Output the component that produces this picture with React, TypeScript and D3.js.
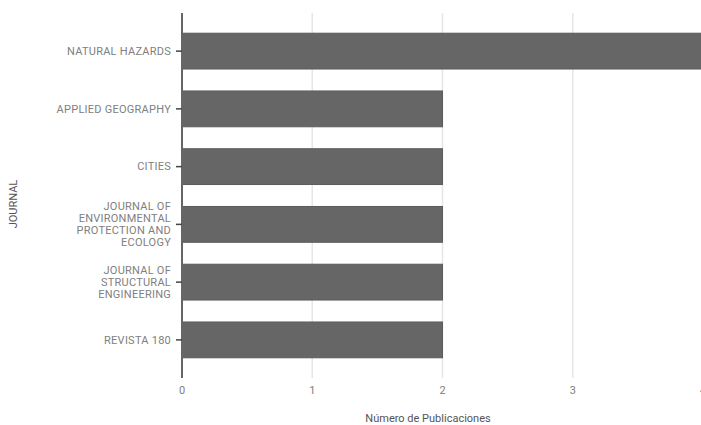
import React from "react";
import * as d3 from "d3";

const journals: string[][] = [
  ["NATURAL HAZARDS"],
  ["APPLIED GEOGRAPHY"],
  ["CITIES"],
  ["JOURNAL OF", "ENVIRONMENTAL", "PROTECTION AND", "ECOLOGY"],
  ["JOURNAL OF", "STRUCTURAL", "ENGINEERING"],
  ["REVISTA 180"],
];
const publications: number[] = [4, 2, 2, 2, 2, 2];
const xTicks: number[] = [0, 1, 2, 3, 4];

export default function App() {
  const W = 701, H = 425;
  const x = d3.scaleLinear().domain([0, 4]).range([182, 703]);
  const keys = journals.map((_, i) => String(i));
  const y = d3.scaleBand<string>().domain(keys).range([13, 378]).paddingInner(0.38).paddingOuter(0.35);
  const font = "Roboto, 'Noto Sans', sans-serif";
  const lh = 12;
  return (
    <svg width={W} height={H} style={{ position: "absolute", left: 0, top: 0 }}>
      <rect width={W} height={H} fill="#fff" />
      {xTicks.filter((t) => t > 0).map((t) => (
        <line key={t} x1={x(t)} x2={x(t)} y1={13} y2={378} stroke="#e6e6e6" strokeWidth={1.5} />
      ))}
      {publications.map((v, i) => (
        <rect key={i} x={x(0)} y={y(keys[i])!} width={x(v) - x(0)} height={y.bandwidth()} fill="#666" stroke="#5c5c5c" strokeWidth={1} />
      ))}
      <line x1={x(0)} x2={x(0)} y1={13} y2={378} stroke="#666" strokeWidth={2} />
      {journals.map((lines, i) => {
        const cy = y(keys[i])! + y.bandwidth() / 2;
        const start = cy - ((lines.length - 1) * lh) / 2;
        return (
          <g key={i}>
            <line x1={176} x2={182} y1={cy} y2={cy} stroke="#444" strokeWidth={1.5} />
            <text textAnchor="end" fontFamily={font} fontSize={11} letterSpacing={0.25} fill="#808080">
              {lines.map((l, j) => (
                <tspan key={j} x={171} y={start + j * lh} dy="0.35em">{l}</tspan>
              ))}
            </text>
          </g>
        );
      })}
      {xTicks.map((t) => (
        <text key={t} x={x(t)} y={390} dy="0.35em" textAnchor="middle" fontFamily={font} fontSize={11} fill="#808080">{t}</text>
      ))}
      <text x={428} y={422} textAnchor="middle" fontFamily={font} fontSize={11} fill="#555">Número de Publicaciones</text>
      <text transform="translate(17,204) rotate(-90)" textAnchor="middle" fontFamily={font} fontSize={11} fill="#555">JOURNAL</text>
    </svg>
  );
}
